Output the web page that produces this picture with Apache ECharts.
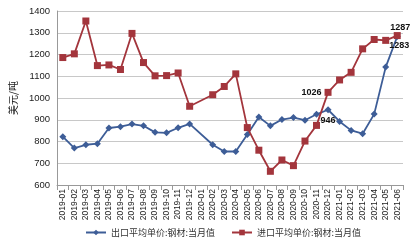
<!DOCTYPE html>
<html><head><meta charset="utf-8">
<script src="https://cdn.jsdelivr.net/npm/echarts@6/dist/echarts.min.js"></script>
<style>html,body{margin:0;padding:0;background:#fff}#c{width:416px;height:246px}</style>
</head><body><div id="c"></div>
<script>
var categories = ['2019-01','2019-02','2019-03','2019-04','2019-05','2019-06','2019-07','2019-08','2019-09','2019-10','2019-11','2019-12',
 '2020-01','2020-02','2020-03','2020-04','2020-05','2020-06','2020-07','2020-08','2020-09','2020-10','2020-11','2020-12',
 '2021-01','2021-02','2021-03','2021-04','2021-05','2021-06'];
var exportPrice = [822,770,785,790,862,868,880,872,842,840,863,881,
 null,785,754,754,832,913,872,901,910,898,925,946,
 892,851,836,926,1142,1283];
var importPrice = [1186,1203,1354,1149,1152,1131,1297,1163,1102,1103,1115,962,
 null,1015,1053,1111,864,760,663,715,689,802,874,1026,
 1083,1118,1226,1269,1265,1287];
var yTicks = [600,700,800,900,1000,1100,1200,1300,1400];
var exportName = '出口平均单价:钢材:当月值';
var importName = '进口平均单价:钢材:当月值';
var yName = '美元/吨';
var labeledExport = {23:'bottom', 29:'bottom'};
var labeledImport = {23:'left', 29:'top'};

var FONT = '"Noto Sans CJK SC", "Noto Sans", sans-serif';
function mk(vals, lab, extra){
  return vals.map(function(v,i){
    if (lab[i] && v!=null) {
      return {value:v, label:Object.assign({show:true, position:lab[i], color:'#111', fontWeight:'bold', fontSize:9, fontFamily:'Liberation Sans', distance:3}, extra[i]||{})};
    }
    return v;
  });
}
var chart = echarts.init(document.getElementById('c'), null, {renderer:'canvas'});
chart.setOption({
  animation:false,
  grid:{left:50, right:13, top:11, bottom:61, containLabel:false},
  legend:{top:223, left:80, itemGap:16, itemWidth:20, itemHeight:7,
    textStyle:{fontFamily:FONT, fontSize:9, color:'#333'},
    data:[exportName, importName]},
  xAxis:{type:'category', data:categories, boundaryGap:true,
    axisLine:{lineStyle:{color:'#999'}}, axisTick:{show:true, lineStyle:{color:'#999'}},
    axisLabel:{rotate:90, interval:0, fontSize:8.5, color:'#222', fontFamily:'Liberation Sans', margin:4}},
  yAxis:{type:'value', min:yTicks[0], max:yTicks[yTicks.length-1], interval:100,
    name:yName, nameLocation:'middle', nameRotate:90, nameGap:34,
    nameTextStyle:{fontFamily:FONT, fontSize:10, color:'#222'},
    axisLine:{show:true, lineStyle:{color:'#999'}}, axisTick:{show:false},
    axisLabel:{fontSize:9.5, color:'#222', fontFamily:'Liberation Sans', margin:7, formatter:function(v){return String(v);}},
    splitLine:{lineStyle:{color:'#c8c8c8', width:1}}},
  series:[
    {name:exportName, type:'line', data:mk(exportPrice, labeledExport, {29:{offset:[2,-2]}}), connectNulls:true,
     symbol:'diamond', symbolSize:7, showAllSymbol:true,
     lineStyle:{color:'#3d5d97', width:1.8}, itemStyle:{color:'#3d5d97'}, z:2},
    {name:importName, type:'line', data:mk(importPrice, labeledImport, {29:{offset:[3,3]}}), connectNulls:true,
     symbol:'rect', symbolSize:7, showAllSymbol:true,
     lineStyle:{color:'#a3353c', width:1.8}, itemStyle:{color:'#a3353c'}, z:3}
  ]
});
</script></body></html>
